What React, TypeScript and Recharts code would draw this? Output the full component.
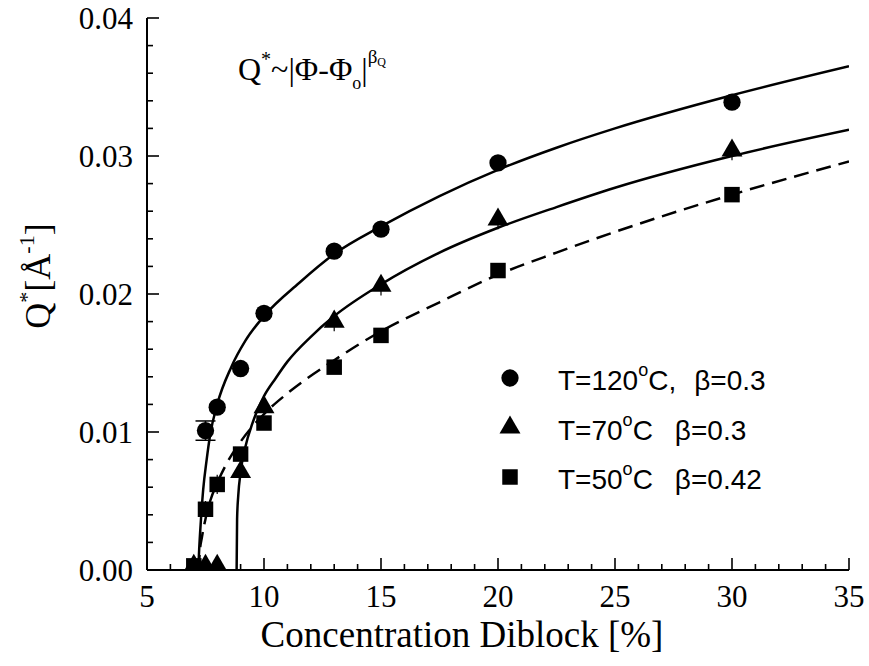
import React from 'react';
import { ComposedChart, Line, Scatter, XAxis, YAxis, ZAxis, ErrorBar, Legend, Symbols } from 'recharts';

// ---- data ----
const circle120X = [7.5, 8, 9, 10, 13, 15, 20, 30];
const circle120Y = [0.0101, 0.0118, 0.0146, 0.0186, 0.0231, 0.0247, 0.0295, 0.0339];
const circle120Err = [0.0007, 0, 0, 0, 0, 0, 0, 0];

const tri70X = [7, 7.5, 8, 9, 10, 13, 15, 20, 30];
const tri70Y = [0.0003, 0.0003, 0.0003, 0.0071, 0.0118, 0.018, 0.0206, 0.0254, 0.0304];
const tri70Err = [0, 0, 0, 0, 0, 0.0007, 0.0007, 0.0007, 0.0007];

const sq50X = [7, 7.5, 8, 9, 10, 13, 15, 20, 30];
const sq50Y = [0.0003, 0.0044, 0.0062, 0.0084, 0.01065, 0.0147, 0.017, 0.0217, 0.0272];
const sq50Err = [0, 0.0006, 0.0007, 0, 0, 0, 0, 0, 0];

// fitted curves
const fit120X = [7.19, 7.23, 7.3, 7.4, 7.55, 7.7, 8.0, 8.6, 9.2, 10, 11.5, 13, 15, 17.5, 20, 22.5, 25, 30, 35];
const fit120Y = [0, 0.0015, 0.0035, 0.0058, 0.008, 0.0098, 0.012, 0.0147, 0.0166, 0.0184, 0.0208, 0.0229, 0.0249, 0.0271, 0.029, 0.0306, 0.032, 0.0344, 0.0365];

const fit70X = [8.83, 8.85, 8.9, 9.0, 9.2, 9.5, 9.7, 10, 10.5, 11, 12, 13, 15, 17.5, 20, 22.5, 25, 30, 35];
const fit70Y = [0, 0.0037, 0.0054, 0.0071, 0.0089, 0.0106, 0.0115, 0.0126, 0.0139, 0.0151, 0.0169, 0.0184, 0.0207, 0.023, 0.0248, 0.0263, 0.0277, 0.03, 0.0319];

const fit50X = [7.21, 7.25, 7.35, 7.5, 7.7, 8.0, 8.4, 9.0, 10, 11, 13, 15, 17.5, 20, 22.5, 25, 30, 35];
const fit50Y = [0, 0.0012, 0.0024, 0.0037, 0.005, 0.0063, 0.0077, 0.0093, 0.0113, 0.0128, 0.0152, 0.0173, 0.0194, 0.0214, 0.023, 0.0245, 0.0272, 0.0296];

const xTicks = [5, 6, 7, 8, 9, 10, 11, 12, 13, 14, 15, 16, 17, 18, 19, 20, 21, 22, 23, 24, 25, 26, 27, 28, 29, 30, 31, 32, 33, 34, 35];
const xMajor = [5, 10, 15, 20, 25, 30, 35];
const yTicks = [0, 0.002, 0.004, 0.006, 0.008, 0.01, 0.012, 0.014, 0.016, 0.018, 0.02, 0.022, 0.024, 0.026, 0.028, 0.03, 0.032, 0.034, 0.036, 0.038, 0.04];
const yMajor = [0, 0.01, 0.02, 0.03, 0.04];

const legendLabels = ['T=120', 'T=70', 'T=50'];
const legendTails = ['C,', 'C', 'C'];
const legendBetas = ['\u03b2=0.3', '\u03b2=0.3', '\u03b2=0.42'];

const pts = (xs: number[], ys: number[], es?: number[]) => xs.map((x, i) => ({ x, y: ys[i], err: es ? es[i] : 0 }));

const SERIF = '"Liberation Serif", "Times New Roman", serif';
const SANS = '"Liberation Sans", Arial, sans-serif';
const MAJ = 12;
const MIN = 6;
const SIZE_C = 235;
const SIZE_T = 190;
const SIZE_S = 240;

const isMajorX = (v: number) => xMajor.indexOf(v) >= 0;
const isMajorY = (v: number) => yMajor.some((m) => Math.abs(m - v) < 1e-9);

const BottomTick = (p: any) => {
  const v = p.payload.value;
  const maj = isMajorX(v);
  return (
    <g>
      <line x1={p.x} x2={p.x} y1={p.y} y2={p.y - (maj ? MAJ : MIN)} stroke="#000" strokeWidth={1.6} />
      {maj && (
        <text x={p.x} y={p.y + 37} textAnchor="middle" fontFamily={SERIF} fontSize={31} fill="#000">
          {v}
        </text>
      )}
    </g>
  );
};
const TopTick = (p: any) => {
  const maj = isMajorX(p.payload.value);
  return <line x1={p.x} x2={p.x} y1={p.y} y2={p.y + (maj ? MAJ : MIN)} stroke="#000" strokeWidth={1.6} />;
};
const LeftTick = (p: any) => {
  const v = p.payload.value;
  const maj = isMajorY(v);
  return (
    <g>
      <line x1={p.x} x2={p.x + (maj ? MAJ : MIN)} y1={p.y} y2={p.y} stroke="#000" strokeWidth={1.6} />
      {maj && (
        <text x={p.x - 14} y={p.y + 11} textAnchor="end" fontFamily={SERIF} fontSize={31} fill="#000">
          {v.toFixed(2)}
        </text>
      )}
    </g>
  );
};
const RightTick = (p: any) => {
  const maj = isMajorY(p.payload.value);
  return <line x1={p.x} x2={p.x - (maj ? MAJ : MIN)} y1={p.y} y2={p.y} stroke="#000" strokeWidth={1.6} />;
};

const LEG_L = 480;
const LEG_T = 350;
const legendTypes: any[] = ['circle', 'triangle', 'square'];
const legendSizes = [SIZE_C, SIZE_T, SIZE_S];
const LegendContent = () => (
  <svg width={340} height={160} style={{ display: 'block' }}>
    {legendLabels.map((lab, i) => {
      const cy = 378 + i * 49.5 - LEG_T;
      const base = 390 + i * 49.5 - LEG_T;
      return (
        <g key={lab}>
          <Symbols cx={510 - LEG_L} cy={cy} type={legendTypes[i]} size={legendSizes[i]} fill="#000" />
          <text x={558 - LEG_L} y={base} fontFamily={SANS} fontSize={28} fill="#000">
            {lab}
            <tspan fontSize={18} dy={-14}>o</tspan>
            <tspan dy={14}>{legendTails[i]}</tspan>
            <tspan dx={i === 0 ? 18 : 22}>{legendBetas[i]}</tspan>
          </text>
        </g>
      );
    })}
  </svg>
);

export default function App() {
  return (
    <div style={{ position: 'absolute', left: 0, top: 0, width: 869, height: 666, background: '#fff' }}>
      <ComposedChart width={869} height={666} margin={{ top: 18, right: 20, bottom: 46, left: 67 }}>
        <XAxis
          xAxisId={0}
          type="number"
          dataKey="x"
          domain={[5, 35]}
          ticks={xTicks}
          interval={0}
          height={50}
          tickSize={0}
          tickMargin={0}
          tickLine={false}
          axisLine={{ stroke: '#000', strokeWidth: 2 }}
          tick={<BottomTick />}
          allowDataOverflow
        />
        <XAxis
          xAxisId="top"
          orientation="top"
          type="number"
          domain={[5, 35]}
          ticks={xTicks}
          interval={0}
          height={0}
          tickSize={0}
          tickMargin={0}
          tickLine={false}
          axisLine={{ stroke: '#000', strokeWidth: 2 }}
          tick={<TopTick />}
          allowDataOverflow
        />
        <YAxis
          yAxisId={0}
          type="number"
          domain={[0, 0.04]}
          ticks={yTicks}
          interval={0}
          width={80}
          tickSize={0}
          tickMargin={0}
          tickLine={false}
          axisLine={{ stroke: '#000', strokeWidth: 2 }}
          tick={<LeftTick />}
          allowDataOverflow
        />
        <YAxis
          yAxisId="right"
          orientation="right"
          type="number"
          domain={[0, 0.04]}
          ticks={yTicks}
          interval={0}
          width={0}
          tickSize={0}
          tickMargin={0}
          tickLine={false}
          axisLine={{ stroke: '#000', strokeWidth: 2 }}
          tick={<RightTick />}
          allowDataOverflow
        />
        <ZAxis zAxisId="c" range={[SIZE_C, SIZE_C]} />
        <ZAxis zAxisId="t" range={[SIZE_T, SIZE_T]} />
        <ZAxis zAxisId="s" range={[SIZE_S, SIZE_S]} />
        <Line data={pts(fit120X, fit120Y)} dataKey="y" type="monotone" stroke="#000" strokeWidth={2.5} dot={false} isAnimationActive={false} legendType="none" />
        <Line data={pts(fit70X, fit70Y)} dataKey="y" type="monotone" stroke="#000" strokeWidth={2.5} dot={false} isAnimationActive={false} legendType="none" />
        <Line data={pts(fit50X, fit50Y)} dataKey="y" type="monotone" stroke="#000" strokeWidth={2.5} strokeDasharray="15 8" dot={false} isAnimationActive={false} legendType="none" />
        <Scatter zAxisId="c" data={pts(circle120X, circle120Y, circle120Err)} dataKey="y" shape="circle" fill="#000" isAnimationActive={false}>
          <ErrorBar dataKey="err" direction="y" width={10} stroke="#000" strokeWidth={1.5} />
        </Scatter>
        <Scatter zAxisId="t" data={pts(tri70X, tri70Y, tri70Err)} dataKey="y" shape="triangle" fill="#000" isAnimationActive={false}>
          <ErrorBar dataKey="err" direction="y" width={0} stroke="#000" strokeWidth={1.2} />
        </Scatter>
        <Scatter zAxisId="s" data={pts(sq50X, sq50Y, sq50Err)} dataKey="y" shape="square" fill="#000" isAnimationActive={false}>
          <ErrorBar dataKey="err" direction="y" width={0} stroke="#000" strokeWidth={1.2} />
        </Scatter>
        <Legend
          layout="horizontal"
          verticalAlign="middle"
          align="center"
          content={<LegendContent />}
          wrapperStyle={{ position: 'absolute', left: LEG_L, top: LEG_T, width: 340, height: 160 }}
        />
      </ComposedChart>
      <svg width={869} height={666} style={{ position: 'absolute', left: 0, top: 0, pointerEvents: 'none' }}>
        <text x={462} y={647} textAnchor="middle" fontFamily={SERIF} fontSize={37} fill="#000">
          Concentration Diblock [%]
        </text>
        <text x={50} y={276} transform="rotate(-90 50 276)" textAnchor="middle" fontFamily={SERIF} fontSize={36} fill="#000">
          Q<tspan fontSize={22} dy={-16}>*</tspan>
          <tspan dy={16}>[Å</tspan>
          <tspan fontSize={22} dy={-16}>-1</tspan>
          <tspan dy={16}>]</tspan>
        </text>
        <text x={238} y={80} fontFamily={SERIF} fontSize={32} fill="#000">
          Q<tspan fontSize={20} dy={-14}>*</tspan>
          <tspan dy={14}>~|Φ-Φ</tspan>
          <tspan fontSize={18} dy={9}>o</tspan>
          <tspan dy={-9}>|</tspan>
          <tspan fontSize={19} dy={-17}>β</tspan>
          <tspan fontSize={12} dy={3}>Q</tspan>
        </text>
      </svg>
    </div>
  );
}
